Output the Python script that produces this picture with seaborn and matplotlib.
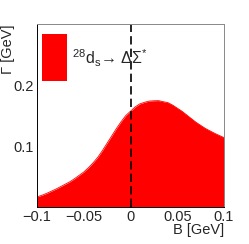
import numpy as np
import pandas as pd
import matplotlib
matplotlib.use("Agg")
import matplotlib.pyplot as plt
from matplotlib.ticker import MultipleLocator, FixedLocator
import seaborn as sns

binding = [-0.100, -0.095, -0.090, -0.085, -0.080, -0.075, -0.070, -0.065, -0.060,
           -0.055, -0.050, -0.045, -0.040, -0.035, -0.030, -0.025, -0.020, -0.015,
           -0.010, -0.005, 0.000, 0.005, 0.010, 0.015, 0.020, 0.025, 0.030, 0.035,
           0.040, 0.045, 0.050, 0.055, 0.060, 0.065, 0.070, 0.075, 0.080, 0.085,
           0.090, 0.095, 0.100]
width = [0.0185, 0.021, 0.024, 0.0275, 0.031, 0.035, 0.039, 0.043, 0.048,
         0.0535, 0.059, 0.066, 0.074, 0.083, 0.094, 0.106, 0.118, 0.130,
         0.141, 0.151, 0.158, 0.165, 0.170, 0.1725, 0.1745, 0.175, 0.1752, 0.1735,
         0.172, 0.168, 0.163, 0.158, 0.152, 0.146, 0.140, 0.135, 0.130, 0.126,
         0.122, 0.1185, 0.115]
legend_label = "$^{28}$d$_{\\rm s}$\u2192 \u0394\u03a3$^{*}$"


def main():
    sns.set_style("white")
    plt.rcParams['font.family'] = ['Liberation Sans', 'DejaVu Sans']
    plt.rcParams['mathtext.fontset'] = 'custom'
    plt.rcParams['mathtext.rm'] = 'Liberation Sans'
    plt.rcParams['mathtext.it'] = 'Liberation Sans'

    df = pd.DataFrame({'B': binding, 'G': width})

    fig = plt.figure(figsize=(2.49, 2.44), dpi=100)
    ax = fig.add_axes([0.1486, 0.1516, 0.751, 0.750])

    sns.lineplot(data=df, x='B', y='G', color='#ff0000', lw=0.6, ax=ax)
    ax.fill_between(df['B'], 0.002, df['G'], color='#ff0000', lw=0)
    ax.axvline(0, color='black', ls=(0, (5, 2.5)), lw=1.2)

    ax.set_xlim(-0.1, 0.1)
    ax.set_ylim(0.002, 0.3)

    ax.xaxis.set_major_locator(FixedLocator([-0.1, -0.05, 0, 0.05, 0.1]))
    ax.xaxis.set_minor_locator(MultipleLocator(0.01))
    ax.set_xticklabels(['\u22120.1', '\u22120.05', '0', '0.05', '0.1'])
    ax.yaxis.set_major_locator(FixedLocator([0.1, 0.2]))
    ax.yaxis.set_minor_locator(MultipleLocator(0.02))
    ax.set_yticklabels(['0.1', '0.2'])
    ax.tick_params(which='both', direction='in', labelsize=10.5, pad=2, width=0.6,
                   top=False, right=False)
    ax.tick_params(which='major', length=7)
    ax.tick_params(which='minor', length=3.5)

    ax.set_xlabel('B [GeV]', fontsize=10.5)
    ax.xaxis.set_label_coords(1.0, -0.085)
    ax.xaxis.label.set_ha('right')
    ax.set_ylabel('\u0393 [GeV]', fontsize=10.5)
    ax.yaxis.set_label_coords(-0.115, 1.0)
    ax.yaxis.label.set_ha('right')

    for side in ['top', 'right']:
        ax.spines[side].set_color('#888888')
    for side in ['left', 'bottom']:
        ax.spines[side].set_color('black')
    for s in ax.spines.values():
        s.set_linewidth(0.7)

    ax.add_patch(plt.Rectangle((0.028, 0.69), 0.13, 0.255, transform=ax.transAxes,
                               color='#ff0000', lw=0))
    ax.text(0.185, 0.815, legend_label, transform=ax.transAxes, fontsize=11.5,
            va='center', ha='left')

    fig.savefig('out.png', dpi=100)


if __name__ == "__main__":
    main()
